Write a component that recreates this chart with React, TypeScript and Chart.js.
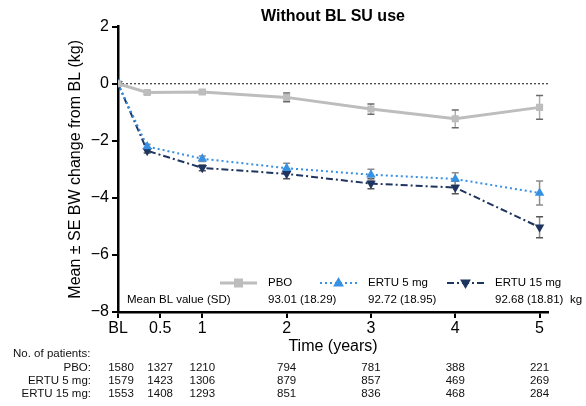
import React, { useEffect, useRef } from "react";
import { Chart, registerables } from "chart.js";

Chart.register(...registerables);

// ---- Data ----
const timePoints = [0, 0.346, 1, 2, 3, 4, 5];
const pboMean = [0, -0.31, -0.29, -0.48, -0.89, -1.23, -0.83];
const pboSE = [0, 0.06, 0.07, 0.15, 0.18, 0.31, 0.42];
const ertu5Mean = [0, -2.2, -2.63, -2.96, -3.19, -3.34, -3.83];
const ertu5SE = [0, 0.08, 0.1, 0.17, 0.19, 0.22, 0.42];
const ertu15Mean = [0, -2.35, -2.95, -3.16, -3.5, -3.64, -5.03];
const ertu15SE = [0, 0.08, 0.1, 0.17, 0.18, 0.22, 0.37];

const xTickValues = [0, 0.5, 1, 2, 3, 4, 5];
const xTickLabels = ["BL", "0.5", "1", "2", "3", "4", "5"];

const seriesNames = ["PBO", "ERTU 5 mg", "ERTU 15 mg"];
const baselineValues = ["93.01 (18.29)", "92.72 (18.95)", "92.68 (18.81)"];
const pboN = [1580, 1327, 1210, 794, 781, 388, 221];
const ertu5N = [1579, 1423, 1306, 879, 857, 469, 269];
const ertu15N = [1553, 1408, 1293, 851, 836, 468, 284];
const tableRowLabels = ["PBO:", "ERTU 5 mg:", "ERTU 15 mg:"];

// ---- Styles ----
const FONT = "'Liberation Sans', Arial, sans-serif";
const C_PBO = "#BDBDBD";
const C_E5 = "#3690E3";
const C_E15 = "#1E3560";
const seriesColors = [C_PBO, C_E5, C_E15];
const seriesDash = [[], [2, 3], [7, 3, 2, 3]];
const seriesWidth = [3, 2, 2];
const seriesMarker = ["rect", "up", "down"];
const barColors = ["#6a6a6a", "#8a8a8a", "#555555"];

function drawMarker(ctx, kind, x, y, r, color) {
  ctx.save();
  ctx.fillStyle = color;
  ctx.setLineDash([]);
  ctx.beginPath();
  if (kind === "rect") {
    const s = r * 0.75;
    ctx.rect(x - s, y - s, 2 * s, 2 * s);
  } else if (kind === "up") {
    const h = r;
    ctx.moveTo(x, y - h);
    ctx.lineTo(x + h * 0.9, y + h * 0.6);
    ctx.lineTo(x - h * 0.9, y + h * 0.6);
    ctx.closePath();
  } else {
    const h = r;
    ctx.moveTo(x, y + h);
    ctx.lineTo(x + h * 0.9, y - h * 0.6);
    ctx.lineTo(x - h * 0.9, y - h * 0.6);
    ctx.closePath();
  }
  ctx.fill();
  ctx.restore();
}

const means = [pboMean, ertu5Mean, ertu15Mean];
const ses = [pboSE, ertu5SE, ertu15SE];
const counts = [pboN, ertu5N, ertu15N];

const extrasPlugin = {
  id: "extras",
  beforeDatasetsDraw(chart) {
    const { ctx, chartArea, scales } = chart;
    const x = scales.x;
    const y = scales.y;
    // zero reference line
    ctx.save();
    ctx.strokeStyle = "#4a4a4a";
    ctx.lineWidth = 1.3;
    ctx.setLineDash([2, 2]);
    const y0 = y.getPixelForValue(0);
    ctx.beginPath();
    ctx.moveTo(chartArea.left, y0);
    ctx.lineTo(chartArea.right, y0);
    ctx.stroke();
    ctx.restore();
    // error bars
    ctx.save();
    ctx.setLineDash([]);
    [2, 1, 0].forEach((di) => {
      timePoints.forEach((t, i) => {
        const se = ses[di][i];
        if (!se) return;
        const px = x.getPixelForValue(t);
        const top = y.getPixelForValue(means[di][i] + se);
        const bot = y.getPixelForValue(means[di][i] - se);
        ctx.strokeStyle = di === 0 ? "#b0b0b0" : "#8d8d8d";
        ctx.lineWidth = 1.5;
        ctx.beginPath();
        ctx.moveTo(px, top);
        ctx.lineTo(px, bot);
        ctx.stroke();
        ctx.strokeStyle = barColors[di];
        ctx.beginPath();
        ctx.moveTo(px - 3.5, top);
        ctx.lineTo(px + 3.5, top);
        ctx.moveTo(px - 3.5, bot);
        ctx.lineTo(px + 3.5, bot);
        ctx.stroke();
      });
    });
    ctx.restore();
  },
  afterDraw(chart) {
    const { ctx, chartArea, scales } = chart;
    const x = scales.x;
    ctx.save();
    // legend inside the plot
    const ly = chartArea.bottom - 29;
    const ly2 = chartArea.bottom - 12;
    const lineStarts = [220, 320, 447];
    const textX = [268, 368, 495];
    ctx.font = `11.5px ${FONT}`;
    ctx.textBaseline = "middle";
    ctx.textAlign = "left";
    for (let i = 0; i < 3; i++) {
      ctx.save();
      ctx.strokeStyle = seriesColors[i];
      ctx.lineWidth = seriesWidth[i];
      ctx.setLineDash(seriesDash[i]);
      ctx.beginPath();
      ctx.moveTo(lineStarts[i], ly);
      ctx.lineTo(lineStarts[i] + 37, ly);
      ctx.stroke();
      ctx.restore();
      drawMarker(ctx, seriesMarker[i], lineStarts[i] + 18.5, ly, 6, seriesColors[i]);
      ctx.fillStyle = "#000";
      ctx.fillText(seriesNames[i], textX[i], ly);
      ctx.fillText(baselineValues[i], textX[i], ly2);
    }
    ctx.fillStyle = "#000";
    ctx.fillText("Mean BL value (SD)", chartArea.left + 9, ly2);
    ctx.fillText("kg", 570, ly2);

    // patients table
    ctx.fillStyle = "#111";
    ctx.fillText("No. of patients:", 13, 354);
    const rowY = [367.5, 380.5, 393.5];
    for (let r = 0; r < 3; r++) {
      ctx.textAlign = "right";
      ctx.fillText(tableRowLabels[r], 91, rowY[r]);
      ctx.textAlign = "center";
      xTickValues.forEach((v, i) => {
        const px = x.getPixelForValue(v) + (i === 0 ? 3 : 0);
        ctx.fillText(String(counts[r][i]), px, rowY[r]);
      });
    }
    ctx.restore();
  },
};

export default function App() {
  const canvasRef = useRef<HTMLCanvasElement | null>(null);

  useEffect(() => {
    const canvas = canvasRef.current;
    if (!canvas) return;
    const datasets = [0, 1, 2].map((i) => ({
      label: seriesNames[i],
      data: timePoints.map((t, k) => ({ x: t, y: means[i][k] })),
      borderColor: seriesColors[i],
      backgroundColor: seriesColors[i],
      borderWidth: seriesWidth[i],
      borderDash: seriesDash[i],
      pointStyle: i === 0 ? "rect" : "triangle",
      pointRotation: i === 2 ? 180 : 0,
      pointRadius: i === 0 ? 5 : 5.5,
      pointBorderWidth: 0,
      pointBackgroundColor: seriesColors[i],
      pointBorderColor: seriesColors[i],
      tension: 0,
      fill: false,
    }));

    const chart = new Chart(canvas, {
      type: "line",
      data: { datasets },
      options: {
        responsive: false,
        animation: false,
        layout: { padding: { top: 0, right: 38, bottom: 0, left: 0 } },
        plugins: {
          legend: { display: false },
          tooltip: { enabled: false },
          title: {
            display: true,
            text: "Without BL SU use",
            color: "#000",
            fullSize: false,
            font: { family: FONT, size: 16, weight: "bold" },
            padding: { top: 7.4, bottom: 0 },
          },
        },
        scales: {
          x: {
            type: "linear",
            min: 0,
            max: 5.1,
            afterBuildTicks: (scale) => {
              scale.ticks = xTickValues.map((v) => ({ value: v }));
            },
            afterFit: (scale) => {
              scale.height = 94;
            },
            ticks: {
              autoSkip: false,
              maxRotation: 0,
              color: "#000",
              padding: 1,
              font: { family: FONT, size: 16 },
              callback: (_v, index) => xTickLabels[index],
            },
            grid: {
              drawOnChartArea: false,
              drawTicks: true,
              tickLength: 6,
              color: "#000",
              lineWidth: 2,
            },
            border: { display: true, color: "#000", width: 2.5 },
            title: {
              display: true,
              text: "Time (years)",
              color: "#000",
              font: { family: FONT, size: 16 },
              padding: { top: 0, bottom: 49.4 },
            },
          },
          y: {
            min: -8,
            max: 2,
            afterFit: (scale) => {
              scale.width = 118;
            },
            ticks: {
              stepSize: 2,
              color: "#000",
              padding: 3,
              font: { family: FONT, size: 16 },
              callback: (v) => (v < 0 ? "\u2212" + Math.abs(v) : String(v)),
            },
            grid: {
              drawOnChartArea: false,
              drawTicks: true,
              tickLength: 6,
              color: "#000",
              lineWidth: 2,
            },
            border: { display: true, color: "#000", width: 2.5 },
            title: {
              display: true,
              text: "Mean \u00B1 SE BW change from BL (kg)",
              color: "#000",
              font: { family: FONT, size: 16 },
              padding: { top: 66.4, bottom: 0 },
            },
          },
        },
      },
      plugins: [extrasPlugin],
    });
    return () => chart.destroy();
  }, []);

  return (
    <div style={{ position: "absolute", left: 0, top: 0, width: 586, height: 406, background: "#fff" }}>
      <canvas ref={canvasRef} width={586} height={406} style={{ display: "block" }} />
    </div>
  );
}
